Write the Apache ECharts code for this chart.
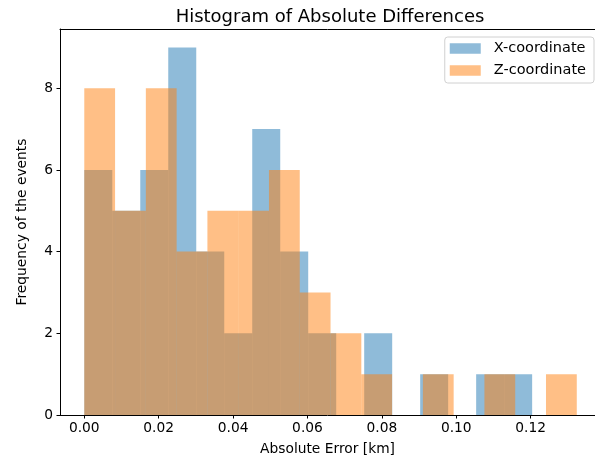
<!DOCTYPE html>
<html lang="en">

<head>
    <meta charset="UTF-8">
    <title>Histogram of Absolute Differences</title>
    <script src="https://cdnjs.cloudflare.com/ajax/libs/echarts/6.0.0/echarts.min.js"></script>
</head>
<style>
    body {
        margin: 0;
        background: #fff;
    }
</style>

<body>
    <div id="main" style="width: 595px;height:461px;"></div>
</body>
<script>
    // histogram counts (16 bins each)
    var seriesNames = ["X-coordinate", "Z-coordinate"];
    var xCounts = [6, 5, 6, 9, 4, 2, 7, 4, 2, 0, 2, 0, 1, 0, 1, 1];
    var zCounts = [8, 5, 8, 4, 5, 5, 6, 3, 2, 1, 0, 1, 0, 1, 0, 1];
    // data range covered by the bins of each series [km]
    var xRange = [0, 0.1204];
    var zRange = [0, 0.1324];
    var xTicks = [0, 0.02, 0.04, 0.06, 0.08, 0.10, 0.12];
    var yTicks = [0, 2, 4, 6, 8];

    var chart = echarts.init(document.getElementById('main'));
    var font = "DejaVu Sans";

    // turn counts + range into [left edge, right edge, count]
    function toBins(counts, range) {
        var w = (range[1] - range[0]) / counts.length;
        return counts.map((c, i) => [range[0] + i * w, range[0] + (i + 1) * w, c]);
    }

    function renderBar(params, api) {
        var p0 = api.coord([api.value(0), api.value(2)]);
        var p1 = api.coord([api.value(1), 0]);
        return {
            type: 'rect',
            shape: { x: p0[0], y: p0[1], width: p1[0] - p0[0], height: p1[1] - p0[1] },
            style: { fill: api.visual('color') }
        };
    }

    var xMin = -0.00653, xMax = 0.1373;

    var option = {
        animation: false,
        textStyle: { fontFamily: font, color: '#000' },
        title: {
            text: 'Histogram of Absolute Differences',
            left: 325,
            top: 3,
            textAlign: 'center',
            textStyle: { fontFamily: font, fontSize: 18, fontWeight: 'normal', color: '#000' }
        },
        legend: {
            orient: 'vertical',
            right: 1,
            top: 37,
            padding: [4, 8, 5, 5],
            itemGap: 7,
            itemWidth: 31,
            itemHeight: 10.5,
            borderColor: '#d0d0d0',
            borderWidth: 1,
            borderRadius: 3,
            backgroundColor: '#fff',
            data: seriesNames.map(n => ({ name: n, icon: 'rect' })),
            textStyle: { fontFamily: font, fontSize: 14.5, color: '#000', padding: [0, 0, 0, 8] }
        },
        grid: {
            left: 60,
            top: 29,
            right: 0,
            bottom: 45
        },
        xAxis: [
            {
                type: 'value',
                min: xMin,
                max: xMax,
                name: 'Absolute Error [km]',
                nameLocation: 'middle',
                nameGap: 27,
                nameTextStyle: { fontFamily: font, fontSize: 13.8, color: '#000' },
                axisLine: { onZero: false, lineStyle: { color: '#000' } },
                axisTick: { customValues: xTicks, length: 3.5, lineStyle: { color: '#000' } },
                axisLabel: {
                    customValues: xTicks,
                    margin: 6,
                    fontFamily: font,
                    fontSize: 13.8,
                    color: '#000',
                    formatter: v => v.toFixed(2)
                },
                splitLine: { show: false }
            },
            {
                // top spine only
                type: 'value',
                position: 'top',
                min: xMin,
                max: xMax,
                axisLine: { show: true, onZero: false, lineStyle: { color: '#000' } },
                axisTick: { show: false },
                axisLabel: { show: false },
                splitLine: { show: false }
            }
        ],
        yAxis: {
            type: 'value',
            min: 0,
            max: 9.45,
            name: 'Frequency of the events',
            nameLocation: 'middle',
            nameGap: 31,
            nameTextStyle: { fontFamily: font, fontSize: 13.8, color: '#000' },
            axisLine: { show: true, onZero: false, lineStyle: { color: '#000' } },
            axisTick: { show: true, customValues: yTicks, length: 3.5, lineStyle: { color: '#000' } },
            axisLabel: { customValues: yTicks, margin: 7, fontFamily: font, fontSize: 13.8, color: '#000' },
            splitLine: { show: false }
        },
        series: [
            {
                name: seriesNames[0],
                type: 'custom',
                renderItem: renderBar,
                itemStyle: { color: 'rgba(31,119,180,0.5)' },
                encode: { x: [0, 1], y: 2 },
                data: toBins(xCounts, xRange)
            },
            {
                name: seriesNames[1],
                type: 'custom',
                renderItem: renderBar,
                itemStyle: { color: 'rgba(255,127,14,0.5)' },
                encode: { x: [0, 1], y: 2 },
                data: toBins(zCounts, zRange)
            }
        ]
    };

    chart.setOption(option);
</script>

</html>
